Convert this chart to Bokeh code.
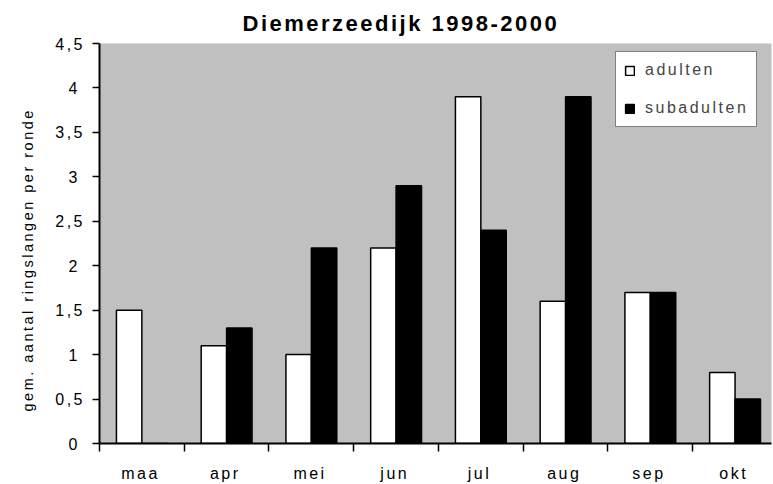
from bokeh.plotting import figure
from bokeh.models import (ColumnDataSource, FixedTicker, CustomJSTickFormatter,
                          Range1d, Legend, LegendItem, Title, InlineStyleSheet)
from bokeh.transform import dodge
from bokeh.embed import file_html
from bokeh.resources import INLINE

months = ["maa", "apr", "mei", "jun", "jul", "aug", "sep", "okt"]
adulten = [1.5, 1.1, 1.0, 2.2, 3.9, 1.6, 1.7, 0.8]
subadulten = [0.0, 1.3, 2.2, 2.9, 2.4, 3.9, 1.7, 0.5]
y_ticks = [0, 0.5, 1, 1.5, 2, 2.5, 3, 3.5, 4, 4.5]
title_text = "Diemerzeedijk 1998-2000"
y_title = "gem. aantal ringslangen per ronde"

centers = [i + 0.5 for i in range(len(months))]
src = ColumnDataSource(dict(x=centers, adulten=adulten, subadulten=subadulten))

FONT = "Liberation Sans"

p = figure(width=773, height=484, output_backend="svg", toolbar_location=None,
           title=None,
           x_range=Range1d(0, 7.93), y_range=Range1d(0, 4.5),
           min_border_left=97, min_border_right=2, min_border_top=43,
           min_border_bottom=40)
# wide letter spacing of the original chart's text
p.stylesheets = [InlineStyleSheet(css=":host { letter-spacing: 2.5px; }")]

xa = p.below[0]
ya = p.left[0]

p.background_fill_color = "#C0C0C0"
p.border_fill_color = "white"
p.outline_line_color = None
p.xgrid.visible = False
p.ygrid.visible = False

r1 = p.vbar(x=dodge("x", -0.15), top="adulten", width=0.3, source=src,
            fill_color="white", line_color="black", line_width=1.5)
r2 = p.vbar(x=dodge("x", 0.15), top="subadulten", width=0.3, source=src,
            fill_color="black", line_color="black", line_width=1.5)

# x axis: labels centred in each month, ticks on the month boundaries
label_pos = [c - 0.06 for c in centers]
xa.ticker = FixedTicker(ticks=label_pos, minor_ticks=list(range(len(months) + 1)))
xa.major_label_overrides = {c: m for c, m in zip(label_pos, months)}
xa.major_tick_out = 0
xa.major_tick_in = 0
xa.minor_tick_out = 8
xa.minor_tick_in = 0
xa.minor_tick_line_color = "black"
xa.minor_tick_line_width = 1.5
xa.axis_line_color = "black"
xa.axis_line_width = 2
xa.major_label_text_font = FONT
xa.major_label_text_font_size = "16px"
xa.major_label_text_color = "black"
xa.major_label_standoff = 13

# y axis
ya.ticker = FixedTicker(ticks=y_ticks)
ya.formatter = CustomJSTickFormatter(code="return tick.toString().replace('.', ',');")
ya.major_tick_out = 7
ya.major_tick_in = 0
ya.minor_tick_out = 0
ya.minor_tick_in = 0
ya.major_tick_line_width = 1.5
ya.axis_line_color = "black"
ya.axis_line_width = 2
ya.major_label_text_font = FONT
ya.major_label_text_font_size = "16px"
ya.major_label_text_color = "black"
ya.major_label_standoff = 15

# chart title above the frame, starting at a fixed offset from the frame's left
p.add_layout(Title(text=title_text, align="left", offset=143, standoff=15,
                   text_font=FONT, text_font_size="22px", text_font_style="bold",
                   text_color="black"), "above")

# y axis title, starting at a fixed offset above the frame's bottom
p.add_layout(Title(text=y_title, align="left", offset=32, standoff=34,
                   text_font=FONT, text_font_size="14.5px", text_font_style="normal",
                   text_color="black"), "left")

legend = Legend(items=[LegendItem(label="adulten", renderers=[r1]),
                       LegendItem(label="subadulten", renderers=[r2])],
                location=(516, 316))
legend.border_line_color = "black"
legend.border_line_width = 1
legend.background_fill_color = "white"
legend.background_fill_alpha = 1
legend.label_text_font = FONT
legend.label_text_font_size = "16px"
legend.label_width = 103
legend.label_height = 20
legend.glyph_width = 11
legend.glyph_height = 11
legend.spacing = 18
legend.padding = 8
legend.margin = 0
legend.label_standoff = 10
p.add_layout(legend)

open("out.html", "w").write(file_html(p, INLINE))
